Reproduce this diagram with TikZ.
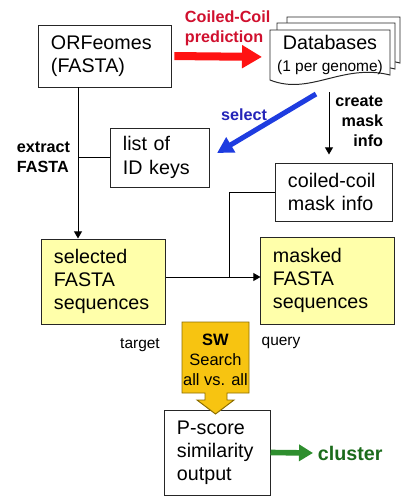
\documentclass[tikz,border=0pt]{standalone}
\usepackage{fontspec}
\setmainfont{Liberation Sans}
\usetikzlibrary{positioning,calc,arrows.meta}
\definecolor{seqyellow}{HTML}{FFFFAA}
\definecolor{swgold}{HTML}{F7C411}
\definecolor{swedge}{HTML}{8C6E00}
\definecolor{predred}{HTML}{FF1212}
\definecolor{predtext}{HTML}{D0102E}
\definecolor{selblue}{HTML}{1E3CE0}
\definecolor{seltext}{HTML}{2424B8}
\definecolor{clugreen}{HTML}{2E8E2E}
\definecolor{clutext}{HTML}{1B6B1B}
\tikzset{
  box/.style={draw=black!85,line width=0.7pt,align=left,inner xsep=0.3cm,
              font=\fontsize{14}{16.5}\selectfont},
  seqbox/.style={box,fill=seqyellow},
  docpage/.style={draw=black!85,line width=0.7pt,fill=white},
  lbl/.style={font=\fontsize{11.5}{14.3}\selectfont\bfseries},
  note/.style={font=\fontsize{11}{13}\selectfont},
  thinline/.style={line width=0.7pt},
  thinarrow/.style={thinline,-{Triangle[length=0.18cm,width=0.2cm]}},
  % the three coloured block arrows
  predarrow/.style={predred,line width=5.7pt,-{Triangle[length=0.5cm,width=0.55cm]}},
  selarrow/.style={selblue,line width=3.6pt,-{Triangle[length=0.4cm,width=0.42cm]}},
  cluarrow/.style={clugreen,line width=4pt,-{Triangle[length=0.35cm,width=0.4cm]}},
}
\begin{document}
\begin{tikzpicture}[x=0.025cm,y=-0.025cm]
  \useasboundingbox (0,0) rectangle (401,496);
  % boxes
  \node[box,text width=2.7cm,minimum height=1.55cm] (orf) at (105,56) {ORFeomes\\(FASTA)};
  \node[box,text width=1.85cm,minimum height=1.475cm] (keys) at (160,157.5) {list of\\ID keys};
  \node[box,text width=2.3cm,minimum height=1.45cm] (mask) at (334,192) {coiled-coil\\mask info};
  \node[seqbox,text width=2.475cm,minimum height=2.125cm] (sel) at (103.5,281.5) {selected\\FASTA\\sequences};
  \node[seqbox,text width=2.725cm,minimum height=2.175cm] (msk) at (327.5,280.5) {masked\\FASTA\\sequences};
  \node[box,text width=2.025cm,minimum height=2.125cm] (pscore) at (217.5,452.5) {P-score\\similarity\\output};
  % stacked database pages, back to front
  \foreach \l/\r/\t/\b in {287/400/17/63, 277/395/23/69, 270/390/30/75}{
    \draw[docpage] (\l,\t) -- (\r,\t) -- (\r,\b) .. controls +(-48,-12) and +(40,16) .. (\l,\b+5) -- cycle;
  }
  \node[align=center] (db) at (330,55) {\fontsize{14}{16.5}\selectfont Databases\\[4pt]\fontsize{11}{13}\selectfont(1 per genome)};
  % SW block arrow
  \draw[fill=swgold,draw=swedge,line width=0.7pt] (182,322) -- (249,322) -- (249,393) -- (227,393) -- (227,400)
    -- (234,400) -- (215.5,414) -- (197,400) -- (205,400) -- (205,393) -- (182,393) -- cycle;
  \node[align=center,font=\fontsize{11.7}{14.2}\selectfont] (sw) at (215.5,360) {\textbf{SW}\\Search\\all vs. all};
  % labels
  \node[lbl,text=predtext,align=left,anchor=west] (pred) at (180,28) {Coiled-Coil\\prediction};
  \node[lbl,text=seltext] (sellbl) at (244,115) {select};
  \node[lbl,align=right,anchor=east] (create) at (388,121) {create\\mask\\info};
  \node[lbl,align=left,anchor=west] (extract) at (12,157.5) {extract\\FASTA};
  \node[note] (target) at (140,345) {target};
  \node[note] (query) at (281,343) {query};
  \node[font=\fontsize{14}{16}\selectfont\bfseries,text=clutext,anchor=west] (cluster) at (313,453) {cluster};
  % connectors
  \coordinate (dbw) at (270,57);
  \coordinate (dbsel) at (316,94);
  \coordinate (dbdown) at (329,92);
  \coordinate (ext) at (78,87);
  \coordinate (jn) at (229,277);
  \draw[predarrow,shorten <=2pt,shorten >=0.2cm] (orf.east) -- (dbw);
  \draw[selarrow,shorten >=0.22cm] (dbsel) -- (keys.east);
  \draw[thinarrow,shorten >=0.2cm] (dbdown) -- (dbdown |- mask.north);
  \draw[thinarrow] (ext) -- (ext |- sel.north);
  \draw[thinline] (keys.west) -- (keys.west -| ext);
  \draw[thinarrow] (sel.east |- jn) -- (msk.west |- jn);
  \draw[thinline] (mask.west) -| (jn);
  \draw[cluarrow] (pscore.east) -- (cluster.west);
\end{tikzpicture}
\end{document}
